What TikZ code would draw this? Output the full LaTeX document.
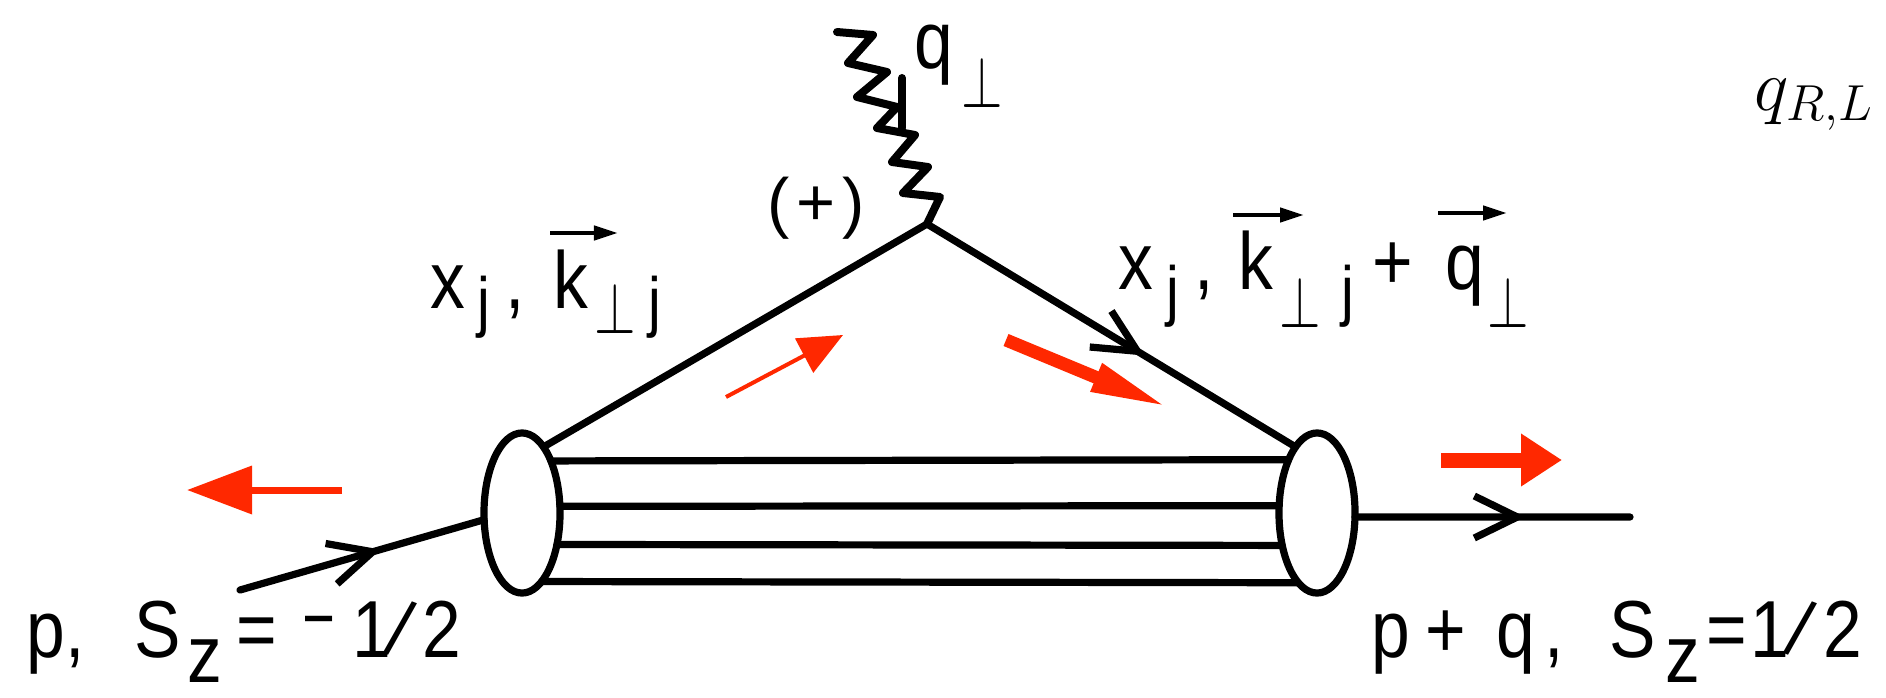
\documentclass[tikz,border=0pt]{standalone}
\usepackage{fontspec}
\setsansfont{Liberation Sans}
\usetikzlibrary{arrows.meta,decorations.markings,shapes.geometric}
\definecolor{redarrow}{RGB}{255,40,0}
\newcommand\kp[1]{\kern\dimexpr 0.3308pt*#1\relax}
\newcommand\dn[2]{\raisebox{-\dimexpr 0.2845pt*#1\relax}{#2}}
\newcommand\subj{{\fontsize{19}{20}\selectfont j}}
\newcommand\perpp{{\fontsize{20}{20}\selectfont\scalebox{0.85}[1]{$\perp$}}}
\newcommand\slsh{\rotatebox[origin=c]{-18}{/}}
\newcommand\mns{\raisebox{4.9pt}{\scalebox{0.7}[1]{–}}}
\tikzset{
  ink/.style={line width=0.072cm, line cap=round, line join=round},
  blob/.style={ellipse, draw, ink, minimum width=0.76cm, minimum height=1.6cm, inner sep=0pt, outer sep=0pt},
  chev/.style={postaction={decorate, decoration={markings, mark=at position #1 with {\arrow{Straight Barb[length=0.43cm, width=0.42cm]}}}}},
  lbl/.style={inner sep=0pt, font=\fontsize{23}{28}\selectfont\sffamily},
  vecar/.style={line width=0.045cm, -{Triangle[length=0.24cm, width=0.14cm]}},
  redarr/.style={draw=redarrow},
}
\begin{document}
\begin{tikzpicture}[x=0.01cm, y=-0.01cm]
\useasboundingbox (0,0) rectangle (1886,697);
\clip (0,0) rectangle (1886,697);

% hadron blobs
\node[blob] (L) at (522,513) {};
\node[blob] (R) at (1317,513) {};

% spectator lines
\draw[ink] (L.61.7) -- (R.118.3);
\draw[ink] (L.10.5) -- (R.169.5);
\draw[ink] (L.-42.6) -- (R.-137.4);
\draw[ink] (L.-74.4) -- (R.-105.6);

% vertex and free ends
\coordinate (V) at (927,224);
\coordinate (Pin) at (240,590);
\coordinate (Pout) at (1630,517);
\coordinate (Qtop) at (837,32);

% quark lines
\draw[ink] (L.72) -- (V);
\draw[ink, chev=0.59] (V) -- (R.108);
\draw[ink, chev=0.576] (Pin) -- (L.190);
\draw[ink, chev=0.62] (R.-6) -- (Pout);

% photon zigzag
\draw[ink, line width=0.08cm] (Qtop) -- (873,35) -- (848,63) -- (887,72) -- (857,97) -- (897,107)
  -- (877,128) -- (915,135) -- (892,162) -- (928,167) -- (903,193) -- (940,197) -- (V);
\draw[ink, line width=0.08cm] (902,78) -- (902,128);

% red arrows
\coordinate (a1s) at (342,490); \coordinate (a1e) at (187,490);
\coordinate (a2s) at (1441,460); \coordinate (a2e) at (1562,460);
\coordinate (a3s) at (726,397); \coordinate (a3e) at (843,335);
\coordinate (a4s) at (1006,340); \coordinate (a4e) at (1170,408);
\draw[redarr, line width=0.07cm, -{Triangle[length=0.65cm, width=0.47cm]}] (a1s) -- (a1e);
\draw[redarr, line width=0.15cm, -{Triangle[length=0.41cm, width=0.5cm]}] (a2s) -- (a2e);
\draw[redarr, line width=0.04cm, -{Triangle[length=0.44cm, width=0.38cm]}] (a3s) -- (a3e);
\draw[redarr, line width=0.13cm, -{Triangle[length=0.8cm, width=0.27cm]}] (a4s) -- (a4e);

% labels
\node[lbl, anchor=base west] (tq) at (914,68) {\scalebox{0.86}[1]{q\kp{8}\dn{39}{\perpp}}};
\node[lbl, anchor=base, font=\fontsize{19}{20}\selectfont\sffamily] (plus) at (816,225) {(\kp{6}+\kp{6})};
\node[lbl, anchor=base west] (kl) at (430,308)
  {\scalebox{0.86}[1]{x\kp{12}\dn{16}{\subj}\kp{15},\kp{29}k\kp{6}\dn{25}{\perpp}\kp{13}\dn{16}{\subj}}};
\node[lbl, anchor=base west] (kr) at (1118,289)
  {\scalebox{0.86}[1]{x\kp{13}\dn{24}{\subj}\kp{15},\kp{25}k\kp{6}\dn{38}{\perpp}\kp{21}\dn{24}{\subj}\kp{18}+\kp{32}q\kp{4}\dn{38}{\perpp}}};
\draw[vecar] (550,233) -- (618,233);
\draw[vecar] (1233,215) -- (1304,215);
\draw[vecar] (1438,213) -- (1507,213);
\node[lbl, anchor=base west] (pl) at (26,657)
  {\scalebox{0.86}[1]{p,\kp{50}S\kp{6}\dn{25}{z}\kp{15}=\kp{28}\mns\kp{20}1\kp{-8}\slsh\kp{5}2}};
\node[lbl, anchor=base west] (pr) at (1371,657)
  {\scalebox{0.86}[1]{p\kp{15}+\kp{30}q\kp{10},\kp{45}S\kp{10}\dn{25}{z}\kp{6}=\kp{4}1\kp{-6}\slsh\kp{6}2}};
\node[inner sep=0pt, anchor=base west, font=\fontsize{20}{24}\selectfont] (qrl) at (1754,110) {$q_{R,L}$};
\end{tikzpicture}
\end{document}
